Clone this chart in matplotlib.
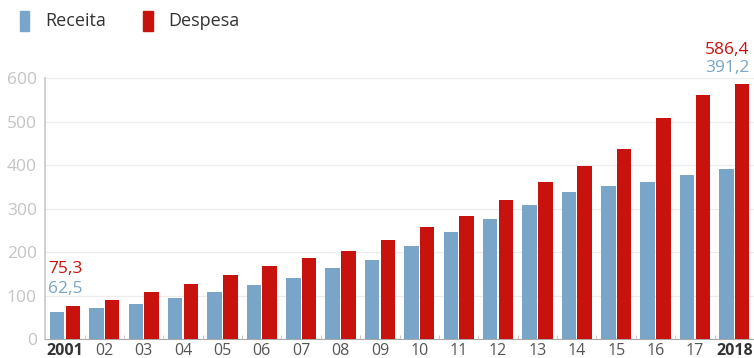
import numpy as np
import matplotlib.pyplot as plt
from matplotlib.patches import Rectangle

plt.rcParams['font.family'] = ['Open Sans', 'DejaVu Sans']

# dados
anos = ['2001', '02', '03', '04', '05', '06', '07', '08', '09', '10',
        '11', '12', '13', '14', '15', '16', '17', '2018']
receita = [62.5, 71, 80, 94, 108, 124, 140, 163, 181, 213,
           245, 275, 307, 339, 351, 360, 376, 391.2]
despesa = [75.3, 89, 108, 126, 147, 167, 186, 202, 227, 257,
           282, 319, 360, 397, 438, 509, 560, 586.4]

azul = '#79a6c8'
vermelho = '#c8120e'

fig = plt.figure(figsize=(7.54, 3.58), dpi=100)
ax = fig.add_axes([0.06, 0.053, 0.94, 0.729])

x = np.arange(len(anos))
w = 0.37
ax.bar(x - w/2 - 0.015, receita, w, color=azul, zorder=3)
ax.bar(x + w/2 + 0.015, despesa, w, color=vermelho, zorder=3)

ax.set_xlim(-0.5, len(anos) - 0.5)
ax.set_ylim(0, 600)
ax.set_yticks([0, 100, 200, 300, 400, 500, 600])
ax.yaxis.grid(True, color='#ececec', linewidth=0.9, zorder=0)
ax.tick_params(axis='y', length=0, colors='#c4c4c4', labelsize=12.5, pad=6)

ax.set_xticks(x)
ax.set_xticklabels(anos)
ax.tick_params(axis='x', length=0, labelsize=11.5, colors='#555555', pad=3)
for lbl in ax.get_xticklabels():
    if lbl.get_text() in ('2001', '2018'):
        lbl.set_fontweight('bold')
        lbl.set_color('#333333')
ax.set_xticks(x[:-1] + 0.5, minor=True)
ax.tick_params(axis='x', which='minor', length=3, direction='in', color='#bbbbbb')

for s in ['top', 'right']:
    ax.spines[s].set_visible(False)
ax.spines['left'].set_color('#c8c8c8')
ax.spines['left'].set_linewidth(1.2)
ax.spines['bottom'].set_color('#aaaaaa')

# rótulos de valores
ax.text(x[0] - 0.43, despesa[0] + 68, '75,3', color=vermelho, fontsize=12.5, fontweight='medium', ha='left', va='bottom')
ax.text(x[0] - 0.43, despesa[0] + 22, '62,5', color=azul, fontsize=12.5, fontweight='medium', ha='left', va='bottom')
ax.text(x[-1] + 0.38, despesa[-1] + 60, '586,4', color=vermelho, fontsize=12.5, fontweight='medium', ha='right', va='bottom', clip_on=False)
ax.text(x[-1] + 0.38, despesa[-1] + 18, '391,2', color=azul, fontsize=12.5, fontweight='medium', ha='right', va='bottom', clip_on=False)

# legenda
fig.patches.append(Rectangle((20/754, 1 - 31/358), 9/754, 20/358, color=azul, transform=fig.transFigure))
fig.text(45/754, 1 - 21/358, 'Receita', fontsize=13, color='#333333', va='center')
fig.patches.append(Rectangle((143/754, 1 - 31/358), 10/754, 20/358, color=vermelho, transform=fig.transFigure))
fig.text(168/754, 1 - 21/358, 'Despesa', fontsize=13, color='#333333', va='center')

fig.savefig('out.png', dpi=100)
